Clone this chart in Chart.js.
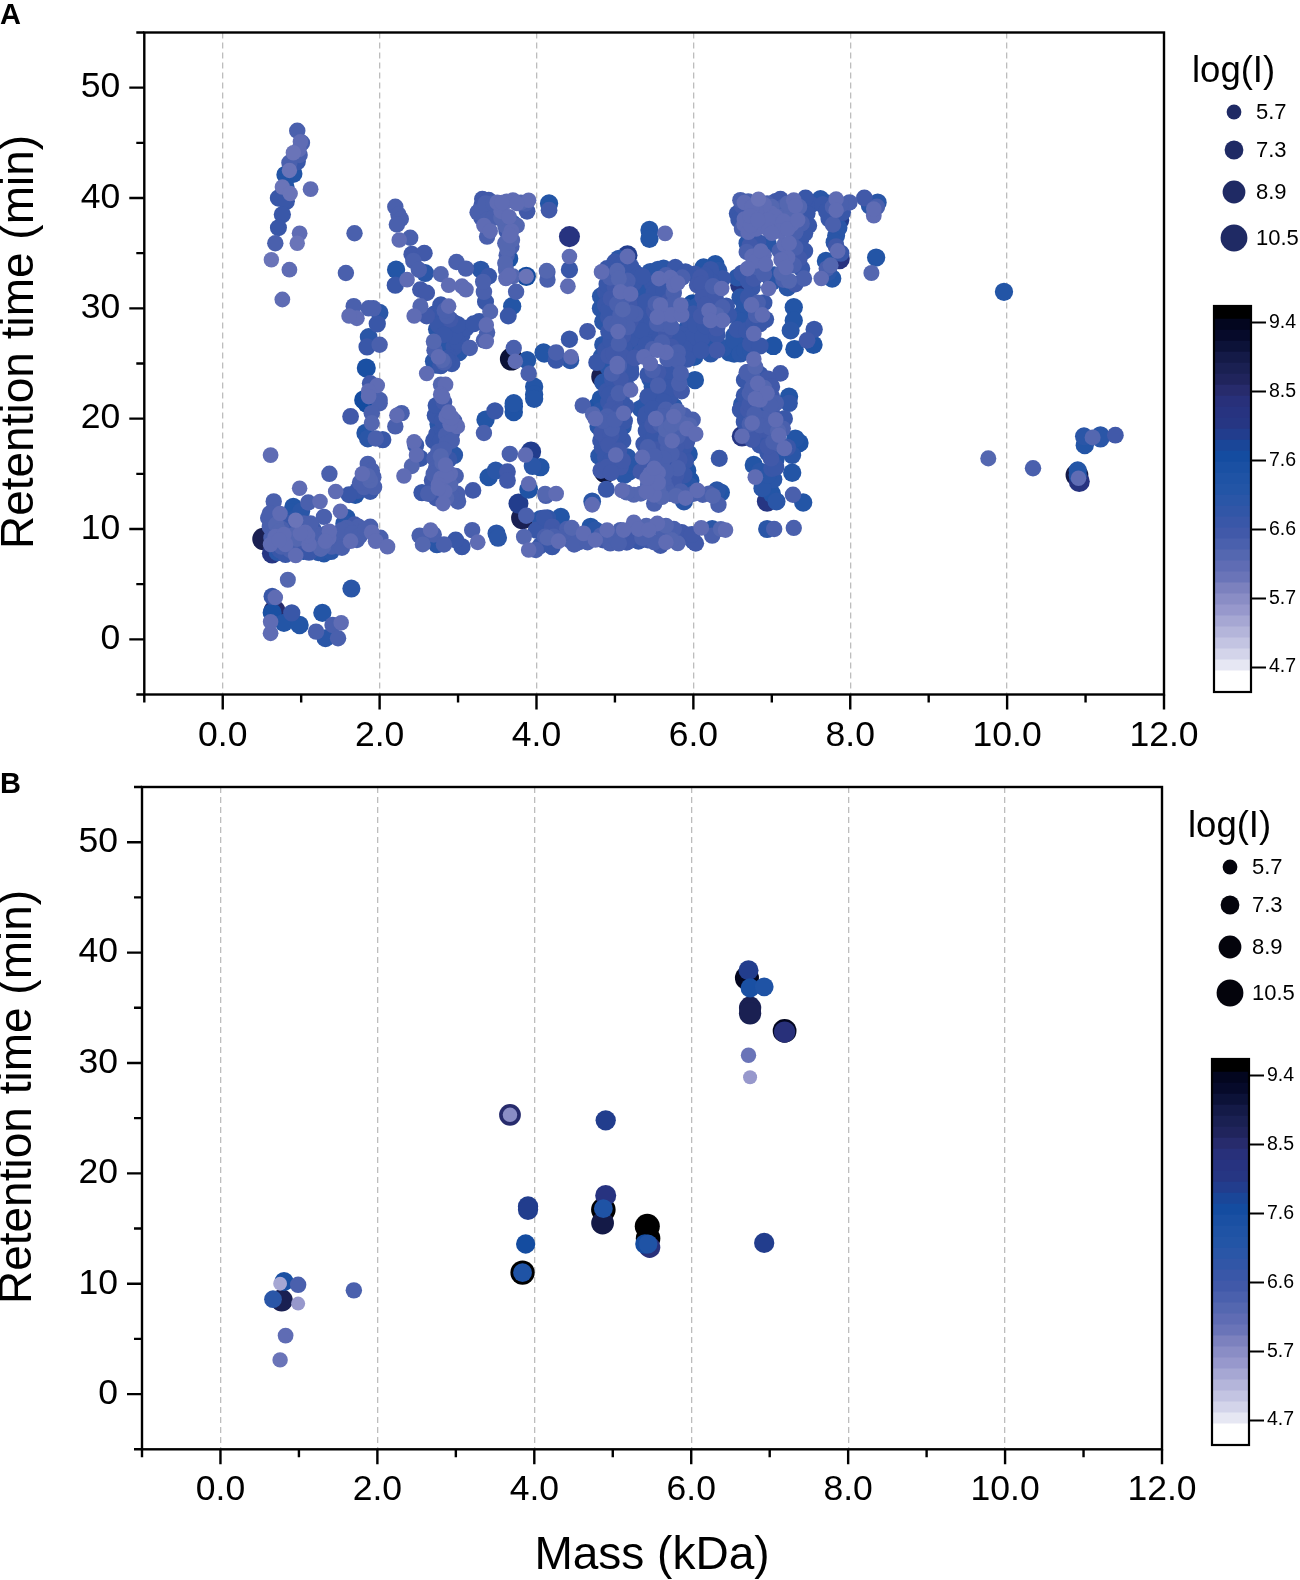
<!DOCTYPE html>
<html>
<head>
<meta charset="utf-8">
<title>Retention time vs mass</title>
<script src="https://cdn.jsdelivr.net/npm/chart.js@4/dist/chart.umd.min.js"></script>
<style>
html, body { margin: 0; padding: 0; background: #fff; }
#page { position: relative; width: 1300px; height: 1580px; overflow: hidden; }
canvas { position: absolute; }
</style>
</head>
<body>
<div id="page">
  <canvas id="plotA"></canvas><canvas id="legendA"></canvas><canvas id="barA"></canvas>
  <canvas id="plotB"></canvas><canvas id="legendB"></canvas><canvas id="barB"></canvas>
</div>
<script>
// each row: mass (kDa), retention time (min), log(I)
const leafPoints = [
[.95,46.1,6.35],[.99,45.1,6.0],[1.01,45,6.35],[.97,44.4,6.1],[.9,44.1,5.95],[.98,43.9,6.35],[.95,43.3,6.7],[.85,43.2,6.35],[.85,42.5,5.95],[.9,42.2,7.1],[.8,42.1,7.1],
[.76,41,5.95],[.86,40.4,5.95],[.8,41,7.1],[1.12,40.8,6.1],[.71,40,6.7],[.81,39.7,6.7],[.76,38.5,6.7],[.71,37.3,6.6],[.67,35.9,6.35],[.98,36.8,6.1],[.95,35.9,5.95],
[.62,34.4,5.95],[.85,33.5,6.1],[.76,30.8,6.1],[1.68,36.8,6.35],[1.57,33.2,6.35]
];
const lowMassTop = [
[1.67,30.2,6.35],[1.86,30,6.35],[1.92,30,6.4],[1.61,29.3,6.0],[1.71,29.1,6.1],[2,29.6,6.9],[1.97,28.6,6.7],[1.86,27.4,6.9],[1.84,26.5,6.7],[2,26.7,6.35],[1.83,24.6,7.4],
[1.88,23.2,6.5],[1.97,23,6.0],[1.86,22.5,6.0],[1.8,21.7,7.6],[2,21.7,6.35],[1.86,22,6.0],[1.84,21.4,7.6],[2,21.4,6.35],[1.63,20.2,6.5],[1.9,20.5,6.35],[1.9,19.6,6.2],
[1.82,18.7,7.1],[1.95,18.2,6.35],[2.04,18.1,6.7],[1.85,18.2,6.9]
];
const band22to34 = [
[2.2,39.2,6.35],[2.24,38.5,6.35],[2.27,38.1,6.35],[2.22,37.6,6.35],[2.39,36.4,6.35],[2.25,36.2,6.0],[2.41,34.9,6.5],[2.57,35,6.5],[2.43,34.3,6.35],[2.5,33.5,6.35],[2.21,33.5,7.1],
[2.58,33.2,7.0],[2.2,32.1,6.7],[2.35,32.6,6.0],[2.52,31.7,6.5],[2.6,31.4,6.5],[2.98,34.2,6.4],[3.1,33.6,6.35],[2.78,33.1,6.2],[2.88,32.1,6.0],[3.05,32,6.1],[3.1,31.7,6.1],
[3.29,33.5,7.0],[3.39,32.9,6.6],[3.32,32.4,6.35],[3.33,31.5,6.4],[3.35,30.6,6.6],[3.41,29.7,6.2],[2.52,30.2,6.2],[2.44,29.3,6.0],[2.6,29.3,6.5],[2.78,30.3,6.7],[2.88,30.2,6.0],
[2.86,29.3,6.35],[2.73,28.1,6.9],[2.88,28.4,6.7],[3.1,28.2,6.6],[2.99,27,6.6],[3.27,28.8,6.6],[3.36,28.5,6.0],[3.37,27.8,6.35],[3.33,27.1,6.35],[3.36,27,6.0],[2.69,27,6.2],
[2.82,26.5,7.0],[3.15,26.4,6.35],[3.01,26,7.0],[2.8,25.3,6.2],[2.75,25.6,6.0],[2.69,25.2,6.9],[2.86,25.3,6.6],[2.6,24.1,6.0],[2.78,23.1,6.2],[2.84,23.1,6.1],[2.78,22.2,6.1],
[2.8,22,6.1],[2.95,27.5,6.6],[3.05,27.6,6.7],[2.9,29,6.5],[2.95,26.5,6.7],[2.22,20.3,6.0],[2.28,20.5,6.35],[2.2,19.3,6.35],
[2.7,29.5,6.7],[2.83,29.8,6.35],[2.75,28.5,6.7],[2.95,28.7,6.6],[2.82,27.6,6.6],[3.0,28.5,6.6],[2.7,26.2,6.35],[2.78,24.8,6.7],[2.82,25.1,6.35],[2.72,24.9,7.0],[2.88,25.5,6.7],[2.92,25,6.7],[3.2,28.6,6.6]
];
const band33to42 = [
[3.31,39.9,6.5],[3.39,39.8,6.5],[3.56,39.6,6.0],[3.7,39.8,6.1],[3.9,39.8,6.0],[3.86,39.5,6.35],[3.25,38.7,6.4],[3.37,38.9,6.35],[3.37,38,6.35],[3.65,38.3,6.0],[3.69,37.7,7.0],[3.33,37.5,6.0],
[3.41,37,6.0],[3.37,36.5,6.35],[3.88,38.8,6.5],[4.16,39.5,7.1],[4.16,38.9,6.5],[3.64,36.2,6.2],[3.69,36.2,6.2],[3.63,35.3,6.2],[3.65,34.5,7.2],[3.61,33.5,6.2],[3.61,32.7,6.0],[3.74,31.5,6.35],
[3.87,32.9,7.5],[3.87,32.9,5.9],[4.14,33.3,6.3],[4.14,32.6,6.35],[3.69,30.2,7.1],[3.64,29.3,6.6],[3.71,26.4,6.35],[3.68,25.4,9.0],[3.73,25.2,6.0],[3.88,25.3,7.1],[3.9,24.1,6.35],[3.97,22.9,7.1],
[3.97,22.2,7.1],[3.71,21.4,7.1],[4.1,25.9,7.1],[3.5,39,6.4],[3.45,38.2,6.35],[3.55,38.8,6.1],[3.6,37.5,6.2],[3.4,39.4,6.5],[3.75,37.5,6.2],
[3.3,39.3,6.5],[3.35,39.5,6.35],[3.45,39.5,6.35],[3.5,39.6,6.1],[3.62,39.7,6.1],[3.75,39.5,6.0],[3.8,39.6,6.2],[3.3,38.2,6.5],[3.42,38.6,6.4],[3.55,38.2,6.2],[3.62,37,6.5],[3.68,37,6.1],[3.66,36.6,6.1],[3.6,35.9,6.2],[3.68,35.6,6.35],[3.62,34.8,6.35],[3.6,34.1,6.2],[3.65,33,6.0],[3.7,32.9,6.2]
];
const band24to20 = [
[2.71,20.3,6.7],[2.88,20.6,6.0],[2.99,19.3,6.1],[2.69,18,6.7],[2.86,17.8,6.35],[2.95,16.7,7.0],[2.84,15.8,6.0],[2.69,15,6.35],[2.67,14.4,6.5],[2.97,14.8,6.35],[2.54,13.3,6.7],[2.83,13.4,6.0],
[2.69,13.2,6.5],[3,12.5,6.35],[2.81,12.3,6.0],[2.99,13.2,6.35],[3.19,13.5,6.5],[2.8,19,6.6],[2.85,18.5,6.4],[2.75,17,6.4],[2.8,16,6.2],[2.9,15,6.1],[2.75,14,6.0],[2.8,19.8,6.6],[2.9,19.5,6.1],[2.44,17.9,6.0],
[2.46,17.6,6.6],[2.52,16.4,6.6],[2.47,16.7,6.0],[2.41,15.7,6.2],[2.31,14.8,6.0],[3.35,19.9,7.1],[3.33,18.7,6.35],[3.47,20.7,6.7],[3.71,21.1,7.2],[3.71,20.6,7.2],[3.97,21.8,7.1],[3.66,16.8,6.4],[3.86,16.7,6.0],
[3.93,17,7.9],[3.95,15.7,6.9],[4.05,15.6,7.1],[3.39,14.7,7.1],[3.48,15.3,7.0],[3.63,15.2,6.5],[3.63,14.4,6.5],[3.9,14.1,6.0],[3.9,13.6,7.3],[4.12,13,6.35],[3.77,12.3,7.8],[3.82,11,8.8],[3.87,11.2,6.4],[4.1,11,6.6],
[3.84,9.3,6.2],[3.9,8.1,6.0],[3.99,8.1,6.4],[4.14,9.2,6.2],
[2.72,21.2,6.6],[2.82,21.5,6.5],[2.75,19.5,7],[2.85,20.2,6.1],[2.92,20.1,6.1],[2.95,19.8,6.35],[2.73,18.6,6.7],[2.92,18.7,6.5],[2.78,18,6.6],[2.92,18,6.35],[2.82,17.2,6.35],[2.7,16.4,6.4],[2.78,16.6,6.2],[2.88,16.3,6.7],[2.72,15.5,6.4],[2.78,14.6,6.05],[2.85,14.8,6.05],[2.75,13.7,6.0],[2.9,14,6.2],[2.62,13.2,6.4],[2.92,12.9,6.35],[2.72,12.8,6.5],[2.85,12.8,6.2]
];
const lowMassBottom = [
[.61,16.7,6.1],[1.36,15,6.35],[.98,13.7,6.0],[.65,12.5,6.35],[.9,12,7.1],[1.09,12.4,6.3],[1.24,12.5,6.0],[1.44,13.4,6.0],[1.85,15.9,6.4],[1.78,15,6.0],[1.88,14.4,6.2],[1.8,13.8,6.35],[1.88,13.4,6.6],[1.69,13.1,7.1],
[1.61,13.1,6.6],[1.5,11.6,6.0],[1.58,11,7.1],[1.29,11.1,6.35],[1,11.6,7.0],[.73,11.4,6.0],[.58,11,6.35],[.93,10.8,5.95],[1.03,10.5,6.35],[.63,9.9,6.35],[.78,9.5,6.0],[.99,9.6,6.0],[1.2,9.5,6.35],[1.36,9.8,6.0],[1.58,10.1,6.35],
[1.73,10.2,6.4],[1.88,10.2,6.35],[.52,9.1,8.8],[.61,8.6,6.0],[.67,9.3,6.1],[.63,7.8,8.0],[.73,8.1,6.7],[.93,7.6,6.0],[1.1,8.6,6.1],[1.29,7.8,7.1],[1.31,8.9,6.0],[1.48,8.6,6.35],[1.63,8.9,6.0],[1.71,9,6.35],[1.9,9.7,6.1],[2.01,9.2,6.35],
[1.95,8.9,6.1],[2.1,8.4,6.1],[.86,8.1,6.35],[1.18,8.3,6.7],[1.39,8.4,6.35],[.75,10,6.35],[.85,10.5,6.7],[1.05,9,6.7],[1.15,8.8,6.7],[1.0,8.2,6.7],[.72,9,6.0],[1.35,9.2,6.1],[.65,10.6,6.35],[.8,8.6,6.1],[1.25,8.2,6.2],
[.6,10.2,6.35],[.62,9.2,6.3],[.68,10.4,6.2],[.72,9.8,6.2],[.75,8.4,6.3],[.82,9.0,6.35],[.83,9.9,6.7],[.88,9.4,6.2],[.92,8.6,6.5],[.97,10.2,6.4],[.95,9.1,6.2],[1.03,8.0,7],[1.08,9.4,6.1],[1.1,7.9,6.7],[1.15,10,6.6],[1.22,7.9,7],[1.25,9.0,6.4],[1.28,8.4,6.2],[1.32,9.6,6.3],[1.38,8.0,7.0],[1.42,9.2,6.35],[1.52,8.3,6.35],[1.52,9.9,6.35],[.7,7.9,7.0],[.8,7.7,6.7],[1.05,9.7,6.1],[1.12,10.5,6.35],[1.65,9.6,6.35],[1.75,9.4,6.35],[1.82,10,6.35],[1.68,10.4,6.5],[1.55,10.5,7],[.72,9.5,6.35],[.88,10.8,7],[.95,11.1,7.1],[.88,11.5,7.1],[.6,11.4,6.35],
[1.9,15.3,6.35],[1.85,14.8,6.2],[1.92,14.7,6.35],[1.75,14.2,6.35],[1.93,13.8,6.35],[1.72,13.5,6.7],
[.83,5.4,6.2],[1.64,4.6,7.0],[.67,3.8,6.0],[.63,3.9,6.7],[.63,2.4,7.4],[.66,2.6,8.5],[.61,1.6,6.0],[.61,.55,6.1],[.78,1.5,7.1],[.88,2.4,6.7],[.98,1.3,7.1],[1.27,2.4,7.1],[1.19,.7,6.35],[1.4,1.3,6.35],[1.51,1.5,6.0],[1.31,.1,7.0],[1.47,.1,6.35],
[2.51,9.4,6.35],[2.65,9.9,6.0],[2.69,9.5,6.35],[2.55,8.6,6.2],[2.73,8.6,6.9],[2.82,8.6,6.35],[2.97,9,6.6],[3.05,8.4,6.7],[3.18,9.9,6.35],[3.25,8.8,6.1],[3.49,9.6,7.0],[3.51,9.2,7.0]
];
const band41to52 = [
[4.42,36.5,8.2],[4.42,34.7,6.0],[4.42,33.5,6.7],[4.4,32,6.1],[4.13,33.4,6.2],[5.44,37.1,7.1],[5.44,36.3,7.1],[5.64,36.8,6.1],[4.65,27.9,6.5],[4.42,27.2,6.7],[4.09,26,7.1],[4.25,26,6.4],[4.44,25.6,6.0],[4.25,25.3,6.6],[4.43,25.3,7.0],[4.83,33.3,6.1],
[5.16,34.8,7.8],[5.16,34.7,6.1],[5.05,34.5,7.0],[5.03,33.4,6.2],[5.24,33.3,7.0],[4.94,32.8,6.35],[5.05,32.7,6.2],[5.16,32.5,6.35],[4.88,31.5,6.7],[5.07,31.5,6.05],[5.2,31.3,6.05],[5.3,30.9,7.0],[4.88,30.3,6.7],[5.03,30.4,6.35],[5.18,30.4,6.5],
[4.92,29.2,6.7],[5.07,29.4,6.35],[5.26,29.5,6.35],[5.01,27.7,7.0],[5.04,27.9,6.0],[5.16,28.3,6.35],[5.28,27.7,6.7],[5.05,26.8,6.35],[5.26,26.6,7.0],[4.88,26.2,6.7],[4.77,25.1,6.7],[5.03,25,6.0],[5.2,24.5,6.6],[4.92,25.7,6.5],
[4.84,23.8,8.7],[4.96,24.1,6.35],[5.2,22.6,6.0],[5.2,24.1,6.7],[5.03,24.7,6.0],[4.59,21.2,6.35],[4.77,21.1,7.2],[4.92,21.5,6.7],[5.14,21.1,6.7],[4.79,19.3,7.0],[4.75,20,6.1],[4.9,20.2,6.35],[5.1,19.3,7.0],[5.11,20.5,6.0],[4.9,18,6.5],[4.96,19.1,6.35],
[4.84,17.4,6.7],[5.01,16.7,6.0],[4.88,16.5,6.7],[5.16,16.5,7.0],[4.82,15.3,6.5],[4.88,15.2,9.0],[5.07,15.6,6.5],[5.18,15.2,7.0],[4.89,13.6,6.6],[4.71,12.5,6.9],[4.71,12.2,6.1],[5.0,17.5,6.6],[5.1,18,6.7],[5.0,23,6.7],[4.9,22.5,6.7],[5.1,23,6.6],
[4.9,33.6,6.6],[5.0,34.2,6.7],[5.1,34,6.7],[5.2,33.8,6.7],[5.3,33,6.7],[4.9,32.2,6.7],[5.0,31.9,6.5],[5.1,32.1,6.35],[5.24,32.3,6.7],[5.32,32,7.0],[4.82,31.1,6.9],[4.95,30.9,6.5],[5.1,30.9,6.3],[5.25,30.5,6.7],[4.82,30,7.0],[4.92,29.8,6.6],[5.1,29.9,6.2],[5.2,29.6,6.35],[5.3,29.8,6.7],[4.85,28.8,7.0],[4.95,28.6,6.4],[5.05,28.7,6.3],[5.2,28.9,6.5],[5.3,28.6,6.9],[4.92,27.9,6.6],[5.1,27.5,6.5],[5.2,27.2,6.7],[4.95,27,6.7],[4.85,26.7,7],[5.12,26.4,6.6],[5.3,26.2,6.9],[4.98,25.9,6.5],[5.1,25.6,6.5],[5.25,25.5,6.5],[4.83,25.6,7.0],[5.05,24.8,6.35],[5.12,24.4,6.7],[4.92,24.6,6.9],
[4.85,23.3,7],[4.97,23.5,6.6],[5.07,23.6,6.5],[5.15,22.9,6.6],[5.05,22.3,6.4],[4.93,22.2,6.6],[4.82,21.8,7.1],[5.0,21.5,6.5],[5.08,21.9,6.7],[4.82,20.7,7.0],[4.95,20.8,6.5],[5.05,20.6,6.5],[4.72,20.4,6.2],[4.85,19.8,6.35],[5.0,19.9,6.35],[5.12,19.8,6.7],[4.83,18.7,6.5],[4.95,18.5,6.5],[5.05,18.6,6.7],[4.82,18.0,6.7],[4.92,17.6,6.5],[5.05,17.1,6.5],[4.8,16.6,7.0],[4.95,16.2,6.6],[5.1,16.2,6.5],[5.2,15.8,6.9],[4.9,15.6,6.5],[4.95,15.1,6.5],[5.12,14.9,7.0]
];
const band54to65 = [
[5.48,32.2,6.7],[5.56,32.7,6.05],[5.71,32.8,6.0],[5.77,33.7,6.7],[5.62,33.6,7.0],[5.86,32.8,6.35],[5.75,32.1,6.0],[5.43,31.3,7.0],[5.58,30.3,6.0],[5.84,30.3,6.05],[5.54,29.2,6.0],[5.45,30.1,7.0],[5.33,28,6.6],[5.5,27.7,6.7],[5.71,27.1,6.7],[5.54,28.6,6.35],
[5.88,27.7,6.7],[5.37,25.6,6.05],[5.54,26.2,6.05],[5.45,25,6.05],[5.67,25.4,6.35],[5.8,25.3,6.35],[5.33,26,6.6],[6.01,25.6,7.1],[6.09,32.8,6.5],[6.28,34,7.1],[6.13,33.7,7.1],[6.22,32.5,6.6],[6.37,32.7,6.7],[6.36,31.8,6.05],[6.05,32.1,6.5],[6.18,31.3,6.6],
[5.99,30.4,7.6],[6.37,30.1,6.35],[6.2,29.8,6.05],[6.22,28.9,6.05],[6.37,28.9,6.1],[5.94,29,6.7],[6.09,28,6.7],[5.96,26,6.7],[6.3,26.2,6.5],[6.52,25.9,7.1],[6.22,27,6.9],[6.05,26.8,6.7],
[5.35,32.9,6.7],[5.45,33.3,7],[5.55,33.5,7],[5.65,33,6.35],[5.8,32.3,6.0],[5.9,33.3,6.7],[5.35,31.6,6.9],[5.5,31.4,6.7],[5.62,31.6,6.6],[5.75,31.4,6.4],[5.4,30.6,6.7],[5.52,30.4,6.35],[5.68,30.6,6.5],[5.75,30.4,6.4],[5.9,30.1,6.9],[5.35,29.6,7.0],[5.5,29.8,6.5],[5.62,29.5,6.1],[5.72,29.4,6.1],[5.85,29.4,6.1],[5.38,28.8,6.7],[5.45,28.4,6.7],[5.62,28.6,6.4],[5.72,28.3,6.35],[5.92,28.2,6.9],[5.42,27.3,6.8],[5.58,27.4,6.6],[5.65,27.9,6.5],[5.8,27.3,6.6],[5.98,27.4,6.7],[5.4,26.7,6.6],[5.6,26.9,6.4],[5.72,26.5,6.5],[5.88,26.4,6.7],[5.48,26.3,6.3],[5.65,26,6.1],[5.8,26,6.4],[5.92,25.4,6.7],[6.0,26.6,6.9],[6.02,33.1,6.7],[6.15,33,6.6],[6.22,33.5,6.7],[6.32,33.4,7],[6.1,32.2,6.5],[6.25,32,6.4],[6.12,31,6.5],[6.28,31,6.5],[6.05,30.2,6.9],[6.15,30.3,6.5],[6.3,30.4,6.6],[6.42,30.2,6.7],[6.0,29.5,6.7],[6.1,29.3,6.5],[6.3,29.4,6.2],[6.45,29.4,6.6],[6.03,28.5,6.7],[6.15,28.4,6.6],[6.3,28.2,6.5],[6.12,27.4,6.7],[6.3,27.6,6.7],[6.1,26.2,6.7],[6.22,25.9,7],[6.38,26.4,7],[6.46,26,7.1],[6.52,27.5,7.0],
[5.48,24.4,6.35],[5.65,23.9,6.7],[5.84,24.1,6.35],[6.02,23.5,7.1],[5.48,22.9,7.0],[5.6,22.1,6.7],[5.33,20.9,7.0],[5.75,21.1,7.0],[5.52,20,6.1],[5.75,20.2,6.0],[5.39,19.9,6.7],[5.99,19.9,6.4],[5.92,19.1,6.05],[6.03,18.6,6.0],[5.73,18,6.0],[5.58,18.8,6.6],
[5.37,17.7,6.7],[5.86,17,6.7],[5.94,16.8,7.1],[5.35,16.5,6.0],[5.6,15.8,6.5],[5.5,15.5,6.0],[5.92,15.3,7.2],[5.41,14.6,6.05],[5.33,15.2,6.5],[5.71,14.7,6.5],[5.96,14.4,7.2],[5.09,13.5,6.05],[5.24,13.1,6.2],[5.5,13.1,6.1],[5.5,12.3,6.35],[5.33,13.2,6.2],
[5.65,13.7,6.4],[5.84,13.4,6.35],[5.9,12.8,6.0],[5.88,12.5,7.0],[6.05,13.5,6.1],[6.2,13.2,6.35],[6.35,13.3,7.1],[6.32,12.2,6.35],[6.33,16.4,6.6],[5.45,18,6.6],[5.6,17,6.7],[5.7,16,6.6],[5.8,19,6.5],[5.55,21,6.7],[5.45,16,6.7],[5.65,19,6.2],[5.7,22,6.7],[5.85,22.5,6.5],
[5.42,22,6.6],[5.55,23,6.4],[5.85,18,6.5],[5.8,15.5,6.4],
[5.42,24,6.6],[5.55,24.2,6.5],[5.7,24.3,6.6],[5.75,23.6,6.7],[5.58,23.5,6.7],[5.45,23.6,6.9],[5.7,22.8,6.7],[5.82,23.2,6.4],[5.5,22.2,7],[5.62,21.5,6.6],[5.4,21.3,7],[5.48,20.9,6.6],[5.65,20.8,6.4],[5.8,20.7,6.2],[5.88,20.3,6.35],[5.6,20.2,6.4],[5.4,20.4,6.7],[5.48,19.4,6.5],[5.58,19.5,6.4],[5.72,19.4,6.2],[5.85,19.6,6.2],[5.95,19.4,6.2],[5.4,18.9,6.7],[5.5,18.4,6.6],[5.65,18.2,6.3],[5.8,18.4,6.3],[5.92,18.0,6.5],[5.42,17.4,6.4],[5.52,17.2,6.5],[5.68,17.4,6.4],[5.78,17.5,6.5],[5.9,17.6,6.6],[5.4,16.4,6.5],[5.5,16.6,6.3],[5.62,16.4,6.35],[5.72,16.8,6.4],[5.82,16.3,6.5],[5.9,16.2,6.7],[5.45,15.0,6.1],[5.55,15.1,6.1],[5.65,15.2,6.3],[5.78,14.9,6.5],[5.88,14.9,6.7],[5.42,14.0,6.2],[5.55,14.2,6.1],[5.62,14.4,6.35],[5.75,14.2,6.5],[5.85,14.2,6.9],[5.95,13.9,7],[5.55,13.6,6.2],[5.7,13.2,6.35],[5.78,13.0,6.2],[6.0,13.2,6.35],[6.12,13.1,6.35],[6.25,13.0,6.2],[6.3,13.5,7.0],[5.15,13.3,6.2],[5.4,13.4,6.1],[5.6,12.9,6.2]
];
const bottomRow = [
[4.11,13.2,6.2],[4.25,13.2,6.1],[4.31,11.1,7.1],[4.14,11,6.8],[4.39,10,6.35],[4.28,8.9,6.0],[4.11,9.3,6.35],[4.54,8.8,6.35],[4.69,10.2,7.1],[4.75,9,6.0],[4.9,9.9,6.0],[5.07,9.9,6.35],[5.11,9.9,6.0],[5.24,10.6,6.1],[4.94,8.7,6.35],[5.2,9.3,6.5],[5.43,9.9,6.0],[5.54,10.5,6.1],
[5.75,10,6.35],[5.65,8.8,6.0],[5.5,8.8,6.35],[5.58,8.5,6.5],[5.92,9.3,6.5],[6.03,8.7,6.5],[5.8,8.7,6.2],[6.1,10.1,6.1],[6.24,9.4,6.35],[6.24,10,7.0],[6.35,10,6.2],[6.41,9.9,6.0],[4.5,9.5,6.7],[4.35,9.2,6.35],[4.6,9.6,6.1],[4.2,8.4,6.7],[4.05,8.5,6.6],[4.45,10.1,6.2],
[5.35,9.2,6.35],[5.3,10,6.1],[4.85,9,6.5],
[4.0,9.9,6.7],[4.05,10.9,7],[4.2,10.2,6.5],[4.22,9.3,6.35],[4.32,9.7,6.5],[4.42,9.0,6.35],[4.48,8.6,6.35],[4.6,9.0,6.7],[4.65,8.8,6.35],[4.75,9.9,6.9],[4.82,9.4,6.3],[5.0,9.3,6.35],[5.05,8.7,6.35],[5.15,8.8,6.5],[5.3,8.9,6.6],[5.42,9.0,6.5],[5.6,9.9,6.3],[5.68,9.5,6.35],[5.85,9.7,6.5],[5.72,9.0,6.2],[5.98,9.5,6.5],[5.4,10.3,6.2],[5.65,10.3,6.2],[6.0,8.9,6.6]
];
const band66to75 = [
[6.6,39.8,6.4],[6.65,39.6,6.0],[6.83,39.9,5.95],[6.94,39.5,6.35],[7.11,39.9,6.5],[7.28,39.8,6.1],[7.43,40,6.6],[7.62,39.9,7.0],[7.82,39.9,6.0],[7.99,39.6,6.35],[8.18,40,6.5],[8.35,39.6,7.0],[8.3,39,6.05],[8.3,38.4,6.1],
[6.56,38.6,6.6],[6.65,38.1,6.0],[6.73,37.5,6.0],[6.86,38.6,6.1],[6.99,38.6,6.1],[6.96,37.1,6.0],[7.2,37.2,6.0],[7.33,38,6.0],[7.45,38.6,6.6],[7.37,36.3,6.7],[7.11,38.3,6.2],[6.77,36.3,6.7],[6.69,35.9,7.0],[6.86,35.2,6.0],[7.16,35.8,6.1],[7.35,34.5,6.5],[7.2,34.6,6.1],
[6.92,34,6.0],[6.69,33.6,6.0],[6.82,33.7,6.35],[6.77,32.7,6.5],[6.56,32.8,7.0],[6.6,32.1,8.0],[7.03,33,7.0],[7.22,32.5,6.2],[7.41,32.7,6.35],[7.2,31.9,7.0],[6.96,31.8,6.0],[6.75,31.9,6.7],[6.9,37.8,6.2],[7.05,37.5,6.05],[7.25,38.8,6.2],[6.8,38.8,6.05],[7.0,39.2,6.2],[7.15,39.2,6.3],[7.35,39.2,6.2],
[6.62,39.3,6.5],[6.7,39.7,6.3],[6.75,39.2,6.0],[6.9,39.4,6.1],[7.05,39.7,6.5],[7.2,39.5,6.2],[7.3,39.3,6.0],[7.4,39.6,6.7],[7.5,39.4,6.7],[6.58,38,6.6],[6.65,37.6,6.1],[6.72,38.4,6.0],[6.82,38,6.0],[6.95,38,6.05],[7.05,38.3,6.1],[7.15,37.9,6.05],[7.25,37.6,6.1],[7.38,37.7,6.4],[7.47,37.5,6.6],[6.62,37.2,6.35],[6.7,36.9,6.1],[6.8,37.2,6.05],[7,36.8,6.0],[7.1,37,6.05],[7.3,36.9,6.3],[7.42,36.8,6.6],[6.72,35.7,6.5],[6.82,36,6.7],[6.95,35.8,7.0],[7.1,35.2,6.3],[7.22,35.9,6.1],[7.3,35.5,6.3],[7.42,35.2,6.6],[6.68,35.1,6.35],[6.75,34.7,6.1],[6.8,34.3,6.05],[6.9,34.8,6.1],[7.12,34.4,6.1],[7.18,33.7,6.0],[7.28,33.9,6.35],[7.38,33.6,6.7],[7.12,33.2,6.2],[6.62,33.2,6.7],[6.7,32.5,6.7],[6.9,33.1,6.35],[7,32.4,7.0],[7.15,32.6,6.4],[7.3,32.2,6.5],
[7.82,38.9,6.0],[7.73,38.1,6.7],[7.86,38,7.8],[7.82,36.6,7.0],[7.84,35.2,6.05],[7.86,34.5,8.2],[7.69,34.3,7.1],[7.75,33.9,6.2],[7.63,32.7,6.0],[7.77,32.7,7.1],[8.33,34.6,7.1],[8.27,33.2,6.2],
[7.65,39.4,6.7],[7.72,39.5,7.0],[7.78,39.2,6.35],[7.88,39.4,6.35],[7.7,38.8,6.7],[7.9,38.7,6.7],[7.78,37.6,6.35],[7.85,37.3,7.0],[7.8,36,7.0],[7.82,35.6,6.5],[7.88,35,6.7],[7.72,33.3,7.0],[7.7,33.6,6.35],[8.25,39.3,7.0],[8.34,39.2,6.4],
[6.65,30.4,6.9],[6.62,29.5,7.0],[6.74,30.3,6.1],[6.88,29.4,6.05],[6.77,28.6,6.6],[6.56,28.1,6.7],[6.77,27.7,6.1],[6.52,27.1,7.0],[6.73,26.8,6.7],[6.77,25.4,6.05],[6.79,24.7,6.2],[6.6,25.9,7.0],[7.28,30.1,7.1],[7.28,28.9,7.1],[7.24,28,7.0],[7.54,28.1,6.7],[7.02,26.6,7.2],[7.29,26.3,7.2],[7.45,27.1,6.5],[7.53,26.7,7.2],
[6.56,26.4,7.1],[6.62,27,7.1],[6.6,28.8,7.0],[6.68,28,6.7],[6.8,29.4,6.4],[6.85,28.6,6.6],[6.92,29,6.7],[6.66,26.2,7.0],[6.74,26.2,7.0],[6.85,26.6,6.7],[6.6,31,7.0],[6.7,31,6.6],[6.82,30.5,6.4],[6.9,30.5,6.6],[6.78,30,6.4],
[6.77,23,6.5],[6.82,23.2,6.05],[7.11,24.1,6.5],[7.22,22,7.1],[7.22,21.4,6.8],[6.94,22.3,6.0],[6.79,21.8,6.0],[6.65,23.5,6.6],[6.65,22.1,6.7],[6.6,20.8,6.7],[7.05,21.4,6.4],[6.75,19.6,6.0],[6.65,19.7,6.7],[7.05,19.9,6.0],[7.16,20,6.7],[7.14,19.1,6.35],[6.62,18.4,8.0],[6.62,18.4,6.0],[6.86,18,6.7],[7.09,18.5,6.05],[6.94,18.4,6.7],
[7.16,17.3,6.1],[7.35,17.8,7.3],[7.26,16.7,7.0],[6.99,16.4,6.5],[6.77,15.8,7.1],[6.79,14.7,6.05],[7,15.5,6.7],[7.26,15.1,7.1],[6.94,14,7.1],[6.94,12.5,8.0],[7.06,12.5,7.0],[7.27,13.1,6.35],[7.4,12.4,7.1],[6.94,10,7.0],[7.03,10,6.35],[7.28,10.1,6.3],[6.85,21,6.6],[6.85,24,6.6],[6.7,20.8,6.5],[6.9,19,6.5],[6.75,23.8,6.4],[6.9,20.5,6.6],
[6.7,24.2,6.6],[6.85,23.8,6.7],[6.95,23.6,6.5],[6.68,24.2,6.35],[6.75,22.8,6.3],[6.9,22.8,6.2],[7,22.9,6.5],[6.72,22.3,6.35],[6.85,22.1,6.2],[7,22,6.5],[6.62,21.3,6.9],[6.72,21.3,6.5],[6.85,21.7,6.1],[6.98,21.2,6.4],[6.66,20.3,6.9],[6.78,20.4,6.3],[6.9,20,6.35],[7,20.5,6.5],[6.72,19.5,6.4],[6.85,19.4,6.35],[6.98,19.2,6.3],[7.08,18.9,6.2],[6.68,18.9,6.9],[6.78,18.6,6.5],[6.85,17.6,6.6],[6.95,17.5,6.5],[7.02,17.9,6.3],[7.1,17.7,6.4],[6.75,18.1,6.5],[6.95,16.9,6.7],[7.05,16.3,6.9],[7.2,17.4,6.7],[7.3,18.2,7.1],[7.05,15.6,6.7],[6.85,15.2,7.0],[6.95,14.9,6.9],[7.02,14.5,7],[6.88,13.7,7],[7,13.2,7.1]
];
const highMassPoints = [
[9.96,31.5,7.1],[9.76,16.4,6.2],[10.33,15.5,6.35],[10.98,18.4,7.0],[10.99,17.6,7.1],[11.09,18.3,6.2],[11.19,18.5,7.0],[11.19,18.2,7.0],[11.38,18.5,6.5],[10.9,15.3,7.1],[10.92,14.3,8.2],[10.89,14.9,8.9],[10.91,14.6,6.0],[10.9,14.9,7.1]
];
const standardPoints = [
[.81,10.2,7.4],[.76,10,5.3],[.99,9.9,6.35],[1.7,9.4,6.35],[.78,8.5,8.7],[.67,8.6,6.9],[.99,8.2,5.4],[.83,5.3,6.1],[.76,3.1,5.95],
[3.69,25.3,8.5],[3.69,25.3,5.6],[4.91,24.8,7.9],[3.92,17,7.9],[3.92,16.7,7.9],[3.89,13.6,7.5],[3.85,11,9.5],[3.85,11,7.3],
[4.91,18,8.2],[4.88,16.7,9.6],[4.88,16.8,7.3],[4.87,15.5,8.9],[5.44,15.2,9.8],[5.45,14.1,9.6],[5.47,13.3,8.3],[5.41,13.6,7.6],[5.45,13.6,7.3],
[6.73,38.4,7.8],[6.71,37.7,9.4],[6.75,36.8,7.4],[6.93,36.9,7.3],[6.75,35,8.7],[6.75,34.5,8.7],[7.19,32.9,9.3],[7.19,32.8,8.3],[6.73,30.7,5.95],[6.75,28.7,5.4],[6.93,13.7,7.9]
];

const massTicks = [-1, 0, 1, 2, 3, 4, 5, 6, 7, 8, 9, 10, 11, 12];
const gridMasses = [0, 2, 4, 6, 8, 10];
const timeTicks = [-5, 0, 5, 10, 15, 20, 25, 30, 35, 40, 45, 50, 55];
const legendValues = [5.7, 7.3, 8.9, 10.5];
const legendRowOffsets = [0, 38, 80, 126];
const barTickValues = [4.7, 5.64, 6.58, 7.52, 8.46, 9.4];
const barTickLabels = ['4.7', '5.7', '6.6', '7.6', '8.5', '9.4'];
// colour scale, bottom edge of every band, last one is the top of the bar
const bandEdges = [4.36, 4.65, 4.8, 4.95, 5.1, 5.25, 5.4, 5.55, 5.7, 5.85, 6, 6.15, 6.3, 6.45, 6.6, 6.75, 6.9, 7.05, 7.2, 7.35, 7.5, 7.65, 7.8, 7.95, 8.1, 8.25, 8.4, 8.55, 8.7, 8.85, 9, 9.15, 9.3, 9.45, 9.63];
const bandColors = ['#ffffff', '#e6e7f3', '#d3d4ea', '#c3c4e2', '#b4b5da', '#a6a7d3', '#9798cc', '#8a8dc5', '#7c81be', '#6a74b8', '#5f6cb4', '#5467b0', '#4a60ad', '#4159a9', '#3957a8', '#3156a7', '#2a56a7', '#2355a6', '#1f53a5', '#1a50a3', '#144ca0', '#1a4698', '#223d8d', '#263683', '#273380', '#28307a', '#272b6c', '#20245c', '#1a2052', '#141a47', '#0c1238', '#060a2a', '#03061f', '#000000'];

const FONT = '"Liberation Sans", Arial, sans-serif';
const PAGE_W = 1300;

function colorFor(logI) {
    for (let i = 0; i < bandColors.length; i++) {
        if (logI < bandEdges[i + 1]) return bandColors[i];
    }
    return bandColors[bandColors.length - 1];
}

function radiusFor(logI) {
    return 7.4 + (logI - 5.7) * 1.25;
}

function setSize(canvas, box) {
    canvas.style.left = box.left + 'px';
    canvas.style.top = box.top + 'px';
    canvas.width = box.width;
    canvas.height = box.height;
    canvas.style.width = box.width + 'px';
    canvas.style.height = box.height + 'px';
}

// box, ticks and the texts Chart.js has no option for
const framePlugin = {
    id: 'frame',
    afterDatasetsDraw(chart, args, opts) {
        const { ctx, chartArea: a, scales } = chart;
        ctx.save();
        ctx.strokeStyle = '#000';
        ctx.lineWidth = 2.4;
        ctx.strokeRect(a.left, a.top, a.right - a.left, a.bottom - a.top);
        ctx.beginPath();
        massTicks.forEach(v => {
            const x = scales.x.getPixelForValue(v);
            ctx.moveTo(x, a.bottom);
            ctx.lineTo(x, a.bottom + (v % 2 === 0 ? 15 : 8));
        });
        timeTicks.forEach(v => {
            const y = scales.y.getPixelForValue(v);
            ctx.moveTo(a.left, y);
            ctx.lineTo(a.left - (v % 10 === 0 ? 15 : 8), y);
        });
        ctx.stroke();
        ctx.fillStyle = '#000';
        ctx.textAlign = 'left';
        ctx.textBaseline = 'alphabetic';
        ctx.font = 'bold 29px ' + FONT;
        ctx.fillText(opts.letter, 0, opts.letterY);
        ctx.font = '46px ' + FONT;
        ctx.translate(opts.titleX, opts.titleY);
        ctx.rotate(-Math.PI / 2);
        ctx.textAlign = 'center';
        ctx.fillText('Retention time (min)', 0, 0);
        ctx.restore();
    }
};

function buildPlot(id, rows, geo) {
    const canvas = document.getElementById(id);
    setSize(canvas, { left: 0, top: geo.top, width: PAGE_W, height: geo.height });
    const sorted = rows.slice().sort((p, q) => q[2] - p[2]);
    return new Chart(canvas, {
        type: 'bubble',
        data: {
            datasets: [{
                data: sorted.map(p => ({ x: p[0], y: p[1], r: radiusFor(p[2]) })),
                backgroundColor: sorted.map(p => colorFor(p[2])),
                borderWidth: 0
            }]
        },
        options: {
            responsive: false,
            animation: false,
            events: [],
            layout: { padding: { top: geo.plotTop, right: PAGE_W - geo.plotRight, left: 0, bottom: 0 } },
            plugins: {
                legend: { display: false },
                tooltip: { enabled: false },
                frame: { letter: geo.letter, letterY: geo.letterY, titleX: geo.titleX, titleY: geo.titleY }
            },
            scales: {
                x: {
                    type: 'linear', min: -1, max: 12,
                    afterBuildTicks: s => { s.ticks = massTicks.map(v => ({ value: v })); },
                    afterFit: s => { s.height = geo.height - geo.plotBottom; s.paddingLeft = 0; s.paddingRight = 0; },
                    border: { display: false, dash: [6, 4] },
                    grid: {
                        drawTicks: false,
                        lineWidth: 1.3,
                        color: c => gridMasses.includes(c.tick.value) ? '#bdbdbd' : 'rgba(0,0,0,0)'
                    },
                    ticks: {
                        autoSkip: false, maxRotation: 0, padding: 20, color: '#000',
                        font: { family: FONT, size: 35.5 },
                        callback: v => v % 2 === 0 ? v.toFixed(1) : ''
                    },
                    title: {
                        display: !!geo.xTitle, text: geo.xTitle, color: '#000',
                        font: { family: FONT, size: 46 },
                        padding: { top: 8, bottom: -4 }
                    }
                },
                y: {
                    type: 'linear', min: -5, max: 55,
                    afterBuildTicks: s => { s.ticks = timeTicks.map(v => ({ value: v })); },
                    afterFit: s => { s.width = geo.plotLeft; s.paddingTop = 0; s.paddingBottom = 0; },
                    border: { display: false },
                    grid: { display: false, drawTicks: false },
                    ticks: {
                        autoSkip: false, padding: 24, color: '#000',
                        font: { family: FONT, size: 35.5 },
                        callback: v => v % 10 === 0 ? String(v) : ''
                    }
                }
            }
        },
        plugins: [framePlugin]
    });
}

const legendTextPlugin = {
    id: 'legendText',
    afterDatasetsDraw(chart) {
        const { ctx } = chart;
        const points = chart.getDatasetMeta(0).data;
        ctx.save();
        ctx.fillStyle = '#000';
        ctx.textAlign = 'left';
        ctx.textBaseline = 'alphabetic';
        ctx.font = '36.5px ' + FONT;
        ctx.fillText('log(I)', 20, 42);
        ctx.font = '22px ' + FONT;
        ctx.textBaseline = 'middle';
        points.forEach((p, i) => ctx.fillText(String(legendValues[i]), 84, p.y + 1));
        ctx.restore();
    }
};

function buildLegend(id, color, geo) {
    const canvas = document.getElementById(id);
    setSize(canvas, geo);
    // the bubble chart insets its area by the largest radius, so one unit stays one pixel
    const inset = radiusFor(legendValues[legendValues.length - 1]);
    return new Chart(canvas, {
        type: 'bubble',
        data: {
            datasets: [{
                data: legendValues.map((v, i) => ({ x: 0, y: legendRowOffsets[i], r: radiusFor(v) })),
                backgroundColor: color,
                borderWidth: 0
            }]
        },
        options: {
            responsive: false,
            animation: false,
            events: [],
            plugins: { legend: { display: false }, tooltip: { enabled: false } },
            scales: {
                x: { type: 'linear', display: false, min: inset - geo.dotX, max: geo.width - geo.dotX - inset },
                y: { type: 'linear', display: false, reverse: true, min: inset - geo.firstRow, max: geo.height - geo.firstRow - inset }
            }
        },
        plugins: [legendTextPlugin]
    });
}

const barBoxPlugin = {
    id: 'barBox',
    afterDatasetsDraw(chart) {
        const { ctx, chartArea: a } = chart;
        ctx.save();
        ctx.strokeStyle = '#000';
        ctx.lineWidth = 2.2;
        ctx.strokeRect(a.left, a.top, a.right - a.left, a.bottom - a.top);
        ctx.restore();
    }
};

function buildBar(id, geo) {
    const canvas = document.getElementById(id);
    setSize(canvas, geo);
    return new Chart(canvas, {
        type: 'bar',
        data: {
            labels: ['log(I)'],
            datasets: bandColors.map((c, i) => ({
                data: [[bandEdges[i], bandEdges[i + 1]]],
                backgroundColor: c,
                borderWidth: 0,
                barPercentage: 1,
                categoryPercentage: 1
            }))
        },
        options: {
            responsive: false,
            animation: false,
            events: [],
            layout: { padding: { left: 3, top: 3, bottom: 3, right: 0 } },
            plugins: { legend: { display: false }, tooltip: { enabled: false } },
            scales: {
                x: { stacked: true, display: false },
                y: {
                    position: 'right',
                    min: 4.36, max: 9.63,
                    afterBuildTicks: s => { s.ticks = barTickValues.map(v => ({ value: v })); },
                    afterFit: s => { s.width = geo.width - 40; s.paddingTop = 0; s.paddingBottom = 0; },
                    border: { display: false },
                    grid: { drawOnChartArea: false, tickLength: 15, tickColor: '#000', tickWidth: 2 },
                    ticks: {
                        autoSkip: false, padding: 3, color: '#000',
                        font: { family: FONT, size: 19.5 },
                        callback: (v, i) => barTickLabels[i]
                    }
                }
            }
        },
        plugins: [barBoxPlugin]
    });
}

document.addEventListener('DOMContentLoaded', function() {
    const pointsA = [].concat(leafPoints, lowMassTop, band22to34, band33to42, band24to20, lowMassBottom, band41to52, band54to65, bottomRow, band66to75, highMassPoints);

    buildPlot('plotA', pointsA, {
        top: 0, height: 755, plotLeft: 144.3, plotRight: 1164, plotTop: 32.5, plotBottom: 694.5,
        letter: 'A', letterY: 24, titleX: 33, titleY: 342, xTitle: ''
    });
    buildLegend('legendA', '#1f2a64', { left: 1172, top: 40, width: 128, height: 230, dotX: 62, firstRow: 72 });
    buildBar('barA', { left: 1211, top: 303, width: 89, height: 392 });

    buildPlot('plotB', standardPoints, {
        top: 755, height: 825, plotLeft: 142, plotRight: 1162, plotTop: 32, plotBottom: 694.3,
        letter: 'B', letterY: 38, titleX: 31, titleY: 342, xTitle: 'Mass (kDa)'
    });
    buildLegend('legendB', '#04040c', { left: 1168, top: 794.5, width: 132, height: 230, dotX: 62, firstRow: 72 });
    buildBar('barB', { left: 1209, top: 1056, width: 91, height: 392 });
});
</script>
</body>
</html>
